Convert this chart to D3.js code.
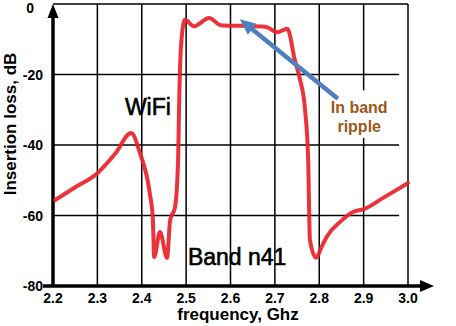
<!DOCTYPE html>
<html>
<head>
<meta charset="utf-8">
<script src="https://cdn.jsdelivr.net/npm/d3@7"></script>
<style>
  body { margin: 0; background: #fff; }
  text { font-family: Arial, "Liberation Sans", sans-serif; }
  .tick-label { font-size: 14px; font-weight: bold; fill: #000; }
  .axis-title { font-size: 17px; font-weight: bold; fill: #000; }
  .band-label { font-size: 23px; fill: #000; stroke: #000; stroke-width: 0.6px; }
  .note { font-size: 16px; font-weight: bold; fill: #9c5718; }
</style>
</head>
<body>
<div id="vis"></div>
<script>
// measured insertion loss of the n41 band filter
const freq = [2.205, 2.25, 2.30, 2.34, 2.376, 2.396, 2.418, 2.425, 2.428, 2.441,
              2.457, 2.464, 2.475, 2.482, 2.484, 2.488, 2.497, 2.518, 2.552, 2.578,
              2.62, 2.68, 2.705, 2.728, 2.745, 2.757, 2.768, 2.775, 2.779, 2.793,
              2.805, 2.817, 2.847, 2.876, 2.901, 2.944, 3.0];
const loss = [-55.6, -52, -48, -42.5, -36.6, -42.3, -53.6, -61, -71.8, -64.7,
              -72, -61.3, -57.6, -44, -30, -13, -4.5, -6.3, -4.0, -6.0,
              -6.2, -6.5, -8.0, -7.0, -15.9, -21.6, -30, -44, -67, -72,
              -69, -66, -61.8, -59, -58.2, -55, -50.8];

const xTicks = [2.2, 2.3, 2.4, 2.5, 2.6, 2.7, 2.8, 2.9, 3.0];
const yTicks = [0, -20, -40, -60, -80];

(function() {
  const svg_width = 456,
        svg_height = 326,
        svg = d3.select('#vis').append('svg')

  svg.attr('width', svg_width)
    .attr('height', svg_height)

  const x = d3.scaleLinear().domain([2.2, 3.0]).range([53, 408])
  const y = d3.scaleLinear().domain([-80, 0]).range([286, 4])

  // band labels sit under the grid
  svg.append('text')
    .attr('class', 'band-label')
    .attr('x', x(2.362)).attr('y', y(-31.5))
    .text('WiFi')

  svg.append('text')
    .attr('class', 'band-label')
    .attr('x', x(2.504)).attr('y', y(-74))
    .text('Band n41')

  // grid
  const grid = svg.append('g').attr('stroke', '#000').attr('stroke-width', 1.5)
  grid.selectAll('.vgrid')
    .data(xTicks.slice(1))
    .join('line')
    .attr('class', 'vgrid')
    .attr('x1', d => x(d)).attr('x2', d => x(d))
    .attr('y1', y(0)).attr('y2', y(-80))

  grid.selectAll('.hgrid')
    .data(yTicks.slice(0, 4))
    .join('line')
    .attr('class', 'hgrid')
    .attr('x1', x(2.2))
    .attr('x2', d => d === 0 ? x(3.0) : x(2.98))
    .attr('y1', d => y(d)).attr('y2', d => y(d))

  // axes with arrows
  svg.append('line')
    .attr('x1', x(2.2)).attr('x2', x(2.2))
    .attr('y1', y(-80) + 1).attr('y2', 14)
    .attr('stroke', '#000').attr('stroke-width', 3.5)
  svg.append('path')
    .attr('d', `M${x(2.2)},4 L${x(2.2) - 5.5},18 L${x(2.2) + 5.5},18 Z`)
    .attr('fill', '#000')

  svg.append('line')
    .attr('x1', 43).attr('x2', 422)
    .attr('y1', y(-80)).attr('y2', y(-80))
    .attr('stroke', '#000').attr('stroke-width', 3.5)
  svg.append('path')
    .attr('d', `M434,${y(-80)} L420,${y(-80) - 6} L420,${y(-80) + 6} Z`)
    .attr('fill', '#000')

  // tick labels
  svg.selectAll('.xlab')
    .data(xTicks)
    .join('text')
    .attr('class', 'tick-label xlab')
    .attr('x', d => x(d))
    .attr('y', 303)
    .attr('text-anchor', 'middle')
    .text(d => d.toFixed(1))

  svg.selectAll('.ylab')
    .data(yTicks)
    .join('text')
    .attr('class', 'tick-label ylab')
    .attr('x', d => d === 0 ? 34 : 43)
    .attr('y', d => d === 0 ? 13 : y(d) + 5)
    .attr('text-anchor', 'end')
    .text(d => d)

  svg.append('text')
    .attr('class', 'axis-title')
    .attr('transform', 'translate(16,124) rotate(-90)')
    .attr('text-anchor', 'middle')
    .text('Insertion loss, dB')

  svg.append('text')
    .attr('class', 'axis-title')
    .attr('x', 238)
    .attr('y', 320)
    .attr('text-anchor', 'middle')
    .text('frequency, Ghz')

  // response curve
  const line = d3.line()
    .x((d, i) => x(freq[i]))
    .y(d => y(d))
    .curve(d3.curveMonotoneX)

  svg.append('path')
    .datum(loss)
    .attr('d', line)
    .attr('fill', 'none')
    .attr('stroke', '#ec2229')
    .attr('stroke-width', 4)
    .attr('stroke-linejoin', 'round')
    .attr('stroke-linecap', 'round')
    .attr('opacity', 0.92)

  // in band ripple annotation: white box hides the grid behind the note
  svg.append('rect')
    .attr('x', x(2.82)).attr('y', y(-24.5))
    .attr('width', x(2.97) - x(2.82))
    .attr('height', y(-38) - y(-24.5))
    .attr('fill', '#fff')

  const tail = [x(2.842), y(-26.9)],
        tip = [x(2.621), y(-4.3)]
  const dx = tip[0] - tail[0], dy = tip[1] - tail[1],
        len = Math.hypot(dx, dy), ux = dx / len, uy = dy / len
  const headLen = 16, headW = 7
  const base = [tip[0] - ux * headLen, tip[1] - uy * headLen]

  svg.append('line')
    .attr('x1', tail[0]).attr('y1', tail[1])
    .attr('x2', base[0] + ux * 2).attr('y2', base[1] + uy * 2)
    .attr('stroke', '#4f7fbd').attr('stroke-width', 4.5)
  svg.append('path')
    .attr('d', `M${tip[0]},${tip[1]} L${base[0] - uy * headW},${base[1] + ux * headW} L${base[0] + uy * headW},${base[1] - ux * headW} Z`)
    .attr('fill', '#4f7fbd')

  svg.append('text')
    .attr('class', 'note')
    .attr('x', x(2.89)).attr('y', y(-30.9))
    .attr('text-anchor', 'middle')
    .text('In band')
  svg.append('text')
    .attr('class', 'note')
    .attr('x', x(2.89)).attr('y', y(-36.4))
    .attr('text-anchor', 'middle')
    .text('ripple')
}())
</script>
</body>
</html>
